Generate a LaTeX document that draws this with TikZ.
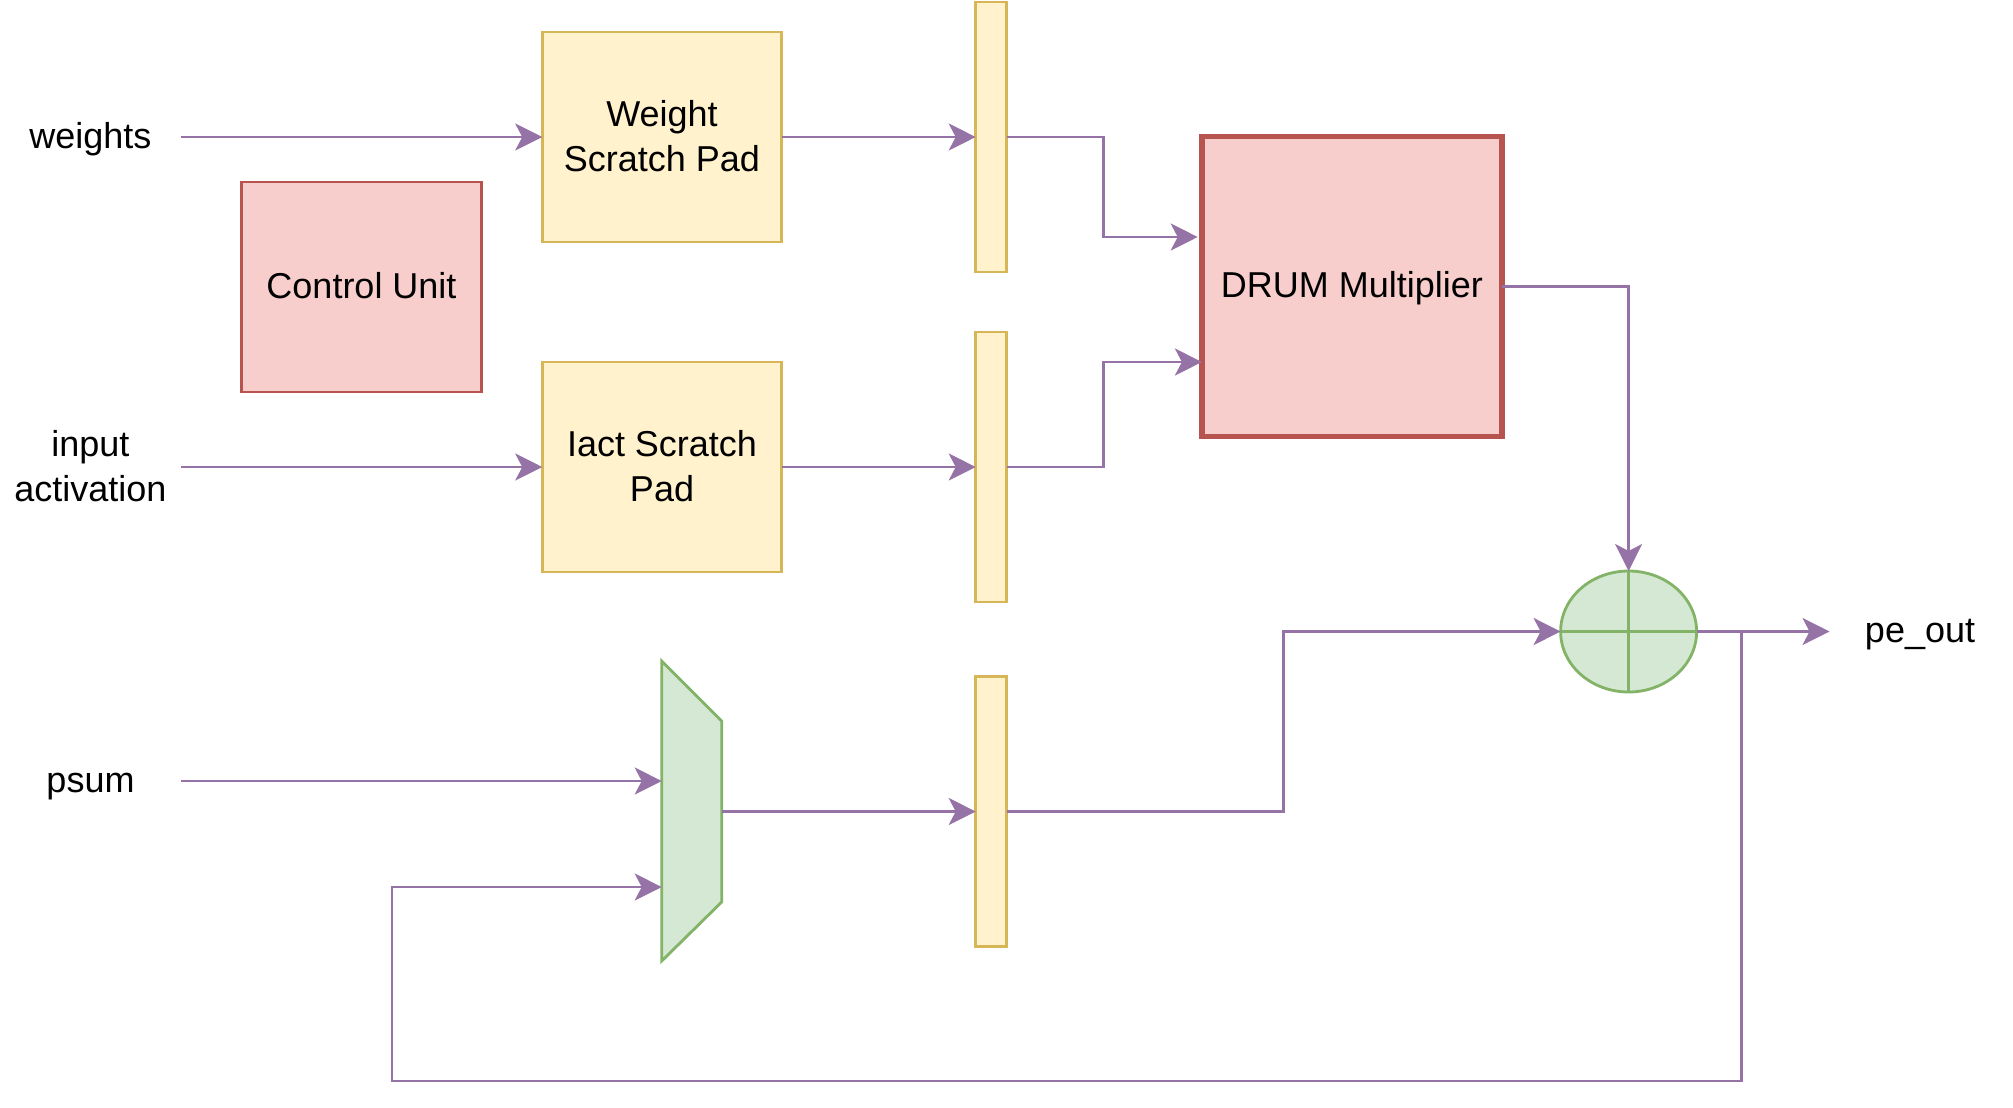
\documentclass[tikz,border=0pt]{standalone}
\usepackage{fontspec}
\setmainfont{Liberation Sans}
\usepackage{tikz}
\usetikzlibrary{arrows.meta,shapes.geometric}
\definecolor{wirecol}{HTML}{9673A6}
\definecolor{yellowfill}{HTML}{FFF2CC}
\definecolor{yellowline}{HTML}{D6B656}
\definecolor{redfill}{HTML}{F8CECC}
\definecolor{redline}{HTML}{B85450}
\definecolor{greenfill}{HTML}{D5E8D4}
\definecolor{greenline}{HTML}{82B366}
\tikzset{
  wire/.style={thick, wirecol, -{Stealth[length=0.27cm, width=0.27cm, inset=0.07cm]}},
  oneline/.style={text height=0.30cm, text depth=0.08cm},
  twoline/.style={text height=0.77cm, text depth=0.08cm},
  spad/.style={draw=yellowline, fill=yellowfill, thick, minimum width=2.395cm, minimum height=2.1cm, align=center, inner sep=0pt, outer sep=0pt},
  pipereg/.style={draw=yellowline, fill=yellowfill, thick, minimum width=0.31cm, minimum height=2.70cm, inner sep=0pt, outer sep=0pt},
  portlabel/.style={minimum width=1.81cm, align=center, inner sep=0pt, outer sep=0pt}
}
\begin{document}
\begin{tikzpicture}[font=\fontsize{10.24}{12.8}\selectfont]
\useasboundingbox (0,0) rectangle (20.13,11.07);
% labels
\node[portlabel, oneline] (weights) at (0.905,9.70) {weights};
\node[portlabel, twoline] (activation) at (0.905,6.40) {input\\activation};
\node[portlabel, oneline] (psum) at (0.905,3.26) {psum};
\node[portlabel, oneline] (peout) at (19.20,4.755) {pe\_out};
% boxes
\node[spad, twoline] (weightpad) at (6.62,9.70) {Weight\\Scratch Pad};
\node[spad, twoline] (iactpad) at (6.62,6.40) {Iact Scratch\\Pad};
\node[spad, oneline, draw=redline, fill=redfill] (control) at (3.615,8.20) {Control Unit};
\node[oneline, draw=redline, fill=redfill, ultra thick, minimum size=3.0cm, inner sep=0pt, outer sep=0pt] (drum) at (13.519,8.205) {DRUM Multiplier};
% registers
\node[pipereg] (regone) at (9.912,9.70) {};
\node[pipereg] (regtwo) at (9.912,6.40) {};
\node[pipereg] (regthree) at (9.912,2.955) {};
% adder
\node[ellipse, draw=greenline, fill=greenfill, thick, minimum width=1.36cm, minimum height=1.21cm, inner sep=0pt, outer sep=0pt] (adder) at (16.286,4.755) {};
\draw [greenline, thick] (adder.north) -- (adder.south);
\draw [greenline, thick] (adder.west) -- (adder.east);
% mux
\draw [greenline, fill=greenfill, thick] (6.617,4.46) -- (7.217,3.86) -- (7.217,2.05) -- (6.617,1.46) -- cycle;
\coordinate (muxtop) at (6.617,3.26);
\coordinate (muxlow) at (6.617,2.20);
\coordinate (muxout) at (7.217,2.955);
% bends
\coordinate (drumtop) at (11.977,8.70);
\coordinate (drumlow) at (12.019,7.45);
\coordinate (bendtop) at (11.034,8.70);
\coordinate (bendlow) at (11.034,7.45);
\coordinate (bendsum) at (12.838,4.755);
\coordinate (tap) at (17.418,4.755);
\coordinate (loopleft) at (3.92,0.26);
% arrows
\draw [wire] (weights.east) -- (weightpad.west);
\draw [wire] (activation.east) -- (iactpad.west);
\draw [wire] (psum.east) -- (muxtop);
\draw [wire] (weightpad.east) -- (regone.west);
\draw [wire] (iactpad.east) -- (regtwo.west);
\draw [wire] (muxout) -- (regthree.west);
\draw [wire] (regone.east) -| (bendtop) -- (drumtop);
\draw [wire] (regtwo.east) -| (bendlow) -- (drumlow);
\draw [wire] (regthree.east) -| (bendsum) -- (adder.west);
\draw [wire] (drum.east) -| (adder.north);
\draw [wire] (adder.east) -- (peout.west);
\draw [wire] (tap) |- (loopleft) |- (muxlow);
\end{tikzpicture}
\end{document}
